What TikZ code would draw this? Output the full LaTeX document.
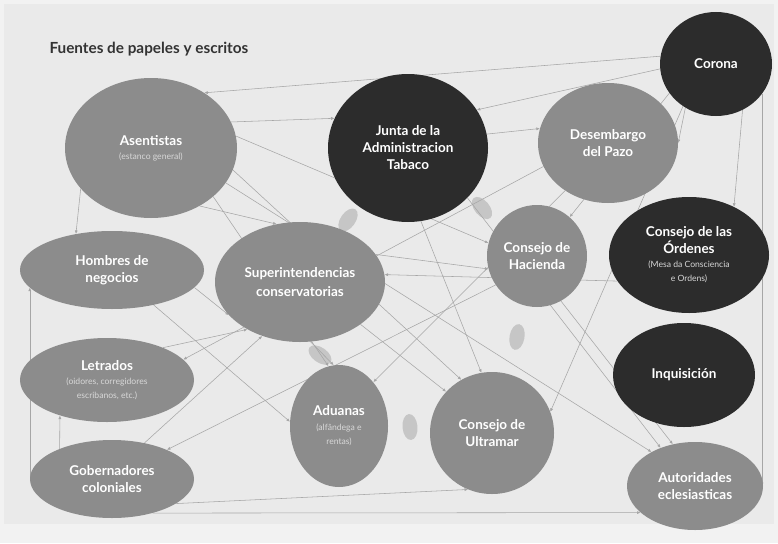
\documentclass[tikz,border=0pt]{standalone}
\usepackage{fontspec}
\setmainfont{Lato}
\usetikzlibrary{shapes.geometric,arrows.meta,backgrounds}
\definecolor{bgc}{HTML}{EAEAEA}
\definecolor{bgo}{HTML}{F2F2F2}
\definecolor{midg}{HTML}{8C8C8C}
\definecolor{darkg}{HTML}{2C2C2C}
\definecolor{lineg}{HTML}{A6A6A6}
\definecolor{blobc}{HTML}{C6C6C6}
\definecolor{subc}{HTML}{D8D8D8}
\definecolor{titc}{HTML}{333333}
\newcommand\subtxt[1]{{\normalfont\fontsize{8.6}{10}\selectfont\color{subc}#1}}
\begin{document}
\begin{tikzpicture}[x=1pt,y=-1pt,
  oval/.style={ellipse, inner sep=0pt, text=white, align=center,
    font=\bfseries\fontsize{13.5}{17}\selectfont},
  mid/.style={oval, fill=midg},
  dark/.style={oval, fill=darkg},
  link/.style={draw=lineg, line width=0.55pt, -{Latex[length=3.5pt,width=3pt]}},
  blob/.style={ellipse, fill=blobc, inner sep=0pt, minimum width=15pt, minimum height=26pt},
]
\useasboundingbox (0,0) rectangle (778,543);

\node[anchor=base west, font=\bfseries\fontsize{15.3}{18}\selectfont, text=titc] (title) at (46,54) {Fuentes de papeles y escritos};

\node[mid, minimum width=172pt, minimum height=140pt] (ase) at (151,148) {Asentistas\\[-3pt]\subtxt{(estanco general)}};
\node[dark, minimum width=160pt, minimum height=148pt] (jun) at (408,148) {Junta de la\\Administracion\\Tabaco};
\node[mid, minimum width=140pt, minimum height=120pt] (des) at (608,143) {Desembargo\\del Pazo};
\node[dark, minimum width=112pt, minimum height=104pt] (cor) at (716,64) {Corona};
\node[mid, minimum width=184pt, minimum height=78pt] (hom) at (112,270) {Hombres de\\negocios};
\node[mid, minimum width=170pt, minimum height=120pt] (sup) at (300,282) {Superintendencias\\[2pt]conservatorias};
\node[mid, minimum width=100pt, minimum height=102pt] (hac) at (537,256) {Consejo de\\Hacienda};
\node[dark, minimum width=160pt, minimum height=116pt] (ord) at (689,255) {Consejo de las\\Órdenes\\[-3pt]\subtxt{(Mesa da Consciencia}\\[-3pt]\subtxt{e Ordens)}};
\node[mid, minimum width=174pt, minimum height=84pt] (let) at (107,380) {Letrados\\[-3pt]\subtxt{(oidores, corregidores}\\[-3pt]\subtxt{escribanos, etc.)}};
\node[mid, minimum width=98pt, minimum height=122pt] (adu) at (339,426) {Aduanas\\[-2pt]\subtxt{(alfândega e}\\[-3pt]\subtxt{rentas)}};
\node[mid, minimum width=124pt, minimum height=122pt] (ult) at (492,433) {Consejo de\\Ultramar};
\node[dark, minimum width=142pt, minimum height=104pt] (inq) at (684,375) {Inquisición};
\node[mid, minimum width=164pt, minimum height=78pt] (gob) at (112,479) {Gobernadores\\coloniales};
\node[mid, minimum width=136pt, minimum height=88pt] (aut) at (695,486) {Autoridades\\eclesiasticas};

\begin{pgfonlayer}{background}
  \fill[bgo] (0,0) rectangle (778,543);
  \fill[bgc] (4,4) rectangle (774,524);

  \node[blob, rotate=-35] (b1) at (348,220) {};
  \node[blob, rotate=40] (b2) at (482,208) {};
  \node[blob, rotate=-10] (b3) at (517,337) {};
  \node[blob, rotate=55] (b4) at (320,355) {};
  \node[blob, rotate=5] (b5) at (410,427) {};

  \draw[link] (cor.172) -- (ase.46);
  \draw[link] (ase.18) -- (jun.158);
  \draw[link] (cor.185) -- (jun.29);
  \draw[link] (jun.10) -- (des.168);
  \draw[link] (cor.235) -- (des.0);
  \draw[link] (cor.300) -- (ord.47);
  \draw[link] (cor.-33) -- (cor.-33 |- aut.east);
  \draw[link] (gob.west) -- (gob.west |- hom.192);
  \draw[link] (gob.150) -- (let.217);
  \draw[link] (gob.-21) -- (ult.247);
  \draw[link] (gob.-40) -- (aut.206);
  \draw[link] (ase.210) -- (hom.135);
  \draw[link] (ase.-50) -- (sup.112);
  \draw[link] (ase.8) -- (hac.165);
  \draw[link] (ase.-15) -- (ult.120);
  \draw[link] (ase.-25) -- (aut.142);
  \draw[link] (ase.-38) -- (adu.100);
  \draw[link] (hac.215) -- (gob.28);
  \draw[link] (hom.-40) -- (adu.175);
  \draw[link] (hom.-12) -- (sup.205);
  \draw[link] (let.30) -- (sup.222);
  \draw[link] (gob.48) -- (sup.235);
  \draw[link] (sup.-80) -- (adu.95);
  \draw[link] (sup.-35) -- (ult.138);
  \draw[link] (sup.20) -- (hac.195);
  \draw[link] (jun.-80) -- (ult.100);
  \draw[link] (jun.-40) -- (aut.132);
  \draw[link] (des.228) -- (adu.52);
  \draw[link] (cor.212) -- (hac.50);
  \draw[link] (cor.232) -- (ult.20);
  \draw[link] (hac.-62) -- (aut.118);
  \draw[link] (des.200) -- (let.15);
  \draw[link] (ord.200) -- (sup.5);
\end{pgfonlayer}
\end{tikzpicture}
\end{document}
